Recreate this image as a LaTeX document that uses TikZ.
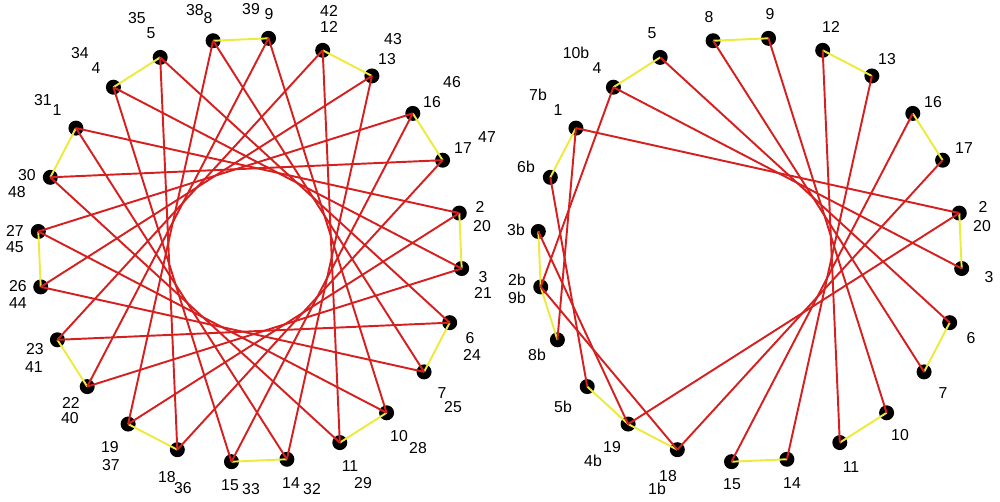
\documentclass[tikz,border=0pt]{standalone}
\usepackage{fontspec}
\setmainfont{Liberation Sans}
\usepackage{tikz}
\definecolor{edgered}{RGB}{214,32,32}
\definecolor{edgeyellow}{RGB}{238,234,60}

\begin{document}
\begin{tikzpicture}[x=0.2mm, y=0.2mm,
  main node/.style={circle,fill=black,minimum size=3mm,inner sep=0pt},
  num node/.style={font=\fontsize{9}{10}\selectfont,inner sep=0pt},
  red edge/.style={draw=edgered,line width=1.1pt},
  yellow edge/.style={draw=edgeyellow,line width=1.1pt}]
\useasboundingbox (0,0) rectangle (1000,501);
% 24 places on each ring, 15 degrees apart
\begin{scope}
\foreach \k in {0,...,23}{
  \pgfmathsetmacro\ang{100-15*\k}
  \node[main node] (a\k) at ({250+212.5*cos(\ang)},{251+212.5*sin(\ang)}) {};
  \node[main node] (b\k) at ({750+212.5*cos(\ang)},{251+212.5*sin(\ang)}) {};
}
\end{scope}
% left ring
\begin{scope}
\foreach \i in {0,2,...,22}{
  \pgfmathtruncatemacro\j{\i+1}
  \draw[yellow edge] (a\i.center) -- (a\j.center);
}
\foreach \i in {0,...,23}{
  \pgfmathtruncatemacro\j{mod(\i+9,24)}
  \draw[red edge] (a\i.center) -- (a\j.center);
}
\end{scope}
% right ring
\begin{scope}
\foreach \i/\j in {0/1,2/3,4/5,6/7,8/9,10/11,12/13,14/15,15/16,17/18,18/19,20/21,22/23}
  \draw[yellow edge] (b\i.center) -- (b\j.center);
\foreach \i/\j in {0/9,1/10,2/11,3/12,4/13,5/14,6/15,21/6,22/7,23/8,22/18,21/17,20/16,19/15,18/14}
  \draw[red edge] (b\i.center) -- (b\j.center);
\end{scope}
% numbers
\begin{scope}
\foreach \t/\x/\y [count=\n] in {38/195/491, 8/208/483, 39/251/492, 9/269/487,
  42/329/490, 12/329/474, 43/393/462, 13/387/442, 46/452/419, 16/432/399,
  47/487/364, 17/463/353, 2/480/294, 20/482/275, 3/483/224, 21/483/208,
  6/470/163, 24/472/146, 7/442/108, 25/453/94, 10/399/65, 28/418/53,
  11/350/35, 29/363/18, 14/291/18, 32/312/12, 15/230/16, 33/251/12,
  18/167/24, 36/183/13, 19/110/54, 37/111/36, 22/71/98, 40/70/83,
  23/35/152, 41/34/134, 26/18/215, 44/18/198, 27/15/270, 45/15/254,
  30/27/326, 48/17/309, 31/43/401, 1/57/391, 34/80/448, 4/96/433,
  35/137/483, 5/151/468}
  \node[num node] (la\n) at (\x,\y) {\t};
\foreach \t/\x/\y [count=\n] in {8/709/484, 9/770/487, 12/831/474, 13/887/442,
  16/933/399, 17/964/353, 2/983/294, 20/982/275, 3/989/224, 6/971/163,
  7/943/108, 10/900/66, 11/851/34, 14/792/18, 15/732/17, 18/668/25,
  1b/657/12, 19/612/54, 4b/593/40, 5b/563/94, 8b/537/146, 2b/517/221,
  9b/517/203, 3b/516/271, 6b/526/334, 7b/538/406, 1/558/391, 10b/576/448,
  4/597/433, 5/652/468}
  \node[num node] (lb\n) at (\x,\y) {\t};
\end{scope}
\end{tikzpicture}
\end{document}
